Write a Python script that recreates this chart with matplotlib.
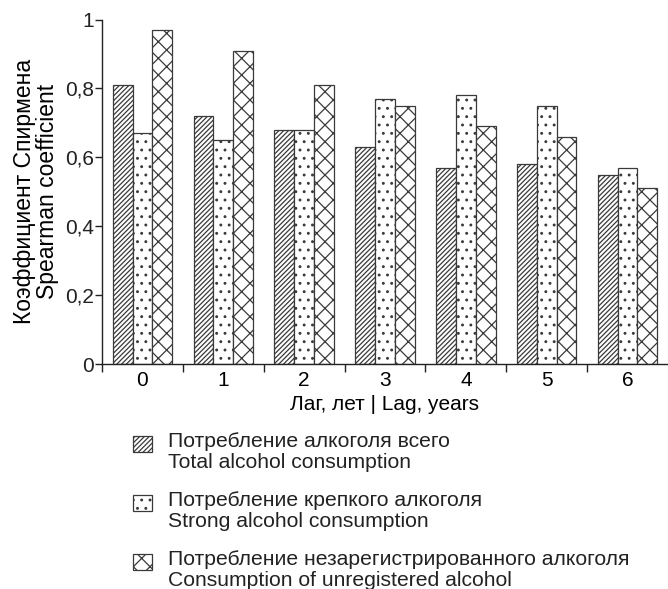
import matplotlib
matplotlib.use("Agg")
import matplotlib.pyplot as plt
from matplotlib.patches import Rectangle
import numpy as np

plt.rcParams['font.family'] = ['Liberation Sans', 'DejaVu Sans']
plt.rcParams['hatch.linewidth'] = 0.9

lags = [0, 1, 2, 3, 4, 5, 6]
total = [0.81, 0.72, 0.68, 0.63, 0.57, 0.58, 0.55]
strong = [0.67, 0.65, 0.68, 0.77, 0.78, 0.75, 0.57]
unregistered = [0.97, 0.91, 0.81, 0.75, 0.69, 0.66, 0.51]

series_labels = [
    "Потребление алкоголя всего\nTotal alcohol consumption",
    "Потребление крепкого алкоголя\nStrong alcohol consumption",
    "Потребление незарегистрированного алкоголя\nConsumption of unregistered alcohol",
]
hatches = ['///////', '..', 'xx']
y_ticks = [0, 0.2, 0.4, 0.6, 0.8, 1.0]
y_tick_labels = ['0', '0,2', '0,4', '0,6', '0,8', '1']

W, H = 668, 589
fig = plt.figure(figsize=(W / 100, H / 100), dpi=100)
ax = fig.add_axes([102 / W, (H - 364) / H, (668 - 102) / W, (364 - 19.5) / H])

x = np.arange(len(lags))
bw = 0.245
edge = '#3a3a3a'
for i, (vals, h) in enumerate(zip([total, strong, unregistered], hatches)):
    ax.bar(x + (i - 1) * bw, vals, width=bw, facecolor='white',
           edgecolor=edge, linewidth=0.9, hatch=h, zorder=2)

ax.set_xlim(-0.5, 6.5)
ax.set_ylim(0, 1)
ax.spines['top'].set_visible(False)
ax.spines['right'].set_visible(False)
for s in ('left', 'bottom'):
    ax.spines[s].set_linewidth(1.0)
    ax.spines[s].set_color('#222222')

ax.set_yticks(y_ticks)
ax.set_yticklabels(y_tick_labels, fontsize=15)
ax.tick_params(axis='y', direction='out', length=5, width=1, pad=1, colors='#222222')

ax.set_xticks(x)
ax.set_xticklabels([str(v) for v in lags], fontsize=15)
ax.tick_params(axis='x', which='major', length=0, pad=5)
ax.set_xticks(np.arange(-0.5, 6.5, 1.0), minor=True)
ax.tick_params(axis='x', which='minor', direction='out', length=6, width=1, colors='#222222')

ax.set_xlabel("Лаг, лет | Lag, years", fontsize=15, labelpad=4)
ax.set_ylabel("Коэффициент Спирмена\nSpearman coefficient", fontsize=16.5,
              labelpad=4, linespacing=1.0)

# legend drawn below the axes: hatched swatch beside a two-line caption
for k, (lab, h) in enumerate(zip(series_labels, hatches)):
    top = 436 + k * 59
    sw = Rectangle((133 / W, 1 - (top + 16) / H), 19 / W, 16 / H,
                   transform=fig.transFigure, facecolor='white',
                   edgecolor=edge, linewidth=0.9, hatch=h)
    fig.add_artist(sw)
    fig.text(168 / W, 1 - (top - 4) / H, lab, fontsize=15.2, va='top',
             ha='left', linespacing=1.12, color='#222222')

fig.savefig("out.png", dpi=100)
